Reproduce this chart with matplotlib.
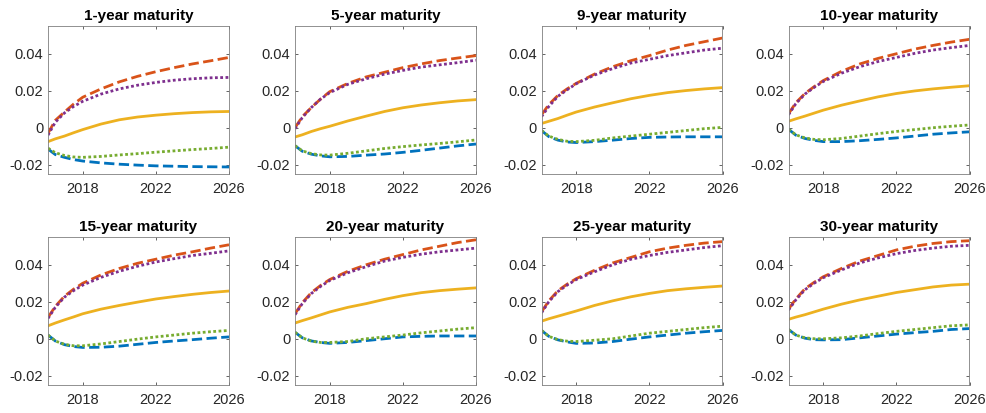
import matplotlib
matplotlib.use("Agg")
import matplotlib.pyplot as plt
import numpy as np

plt.rcParams['font.family'] = ['Liberation Sans', 'DejaVu Sans']

years = [2016.1, 2016.5, 2017, 2017.5, 2018, 2019, 2020, 2021, 2022, 2023, 2024, 2025, 2026]

titles = ['1-year maturity', '5-year maturity', '9-year maturity', '10-year maturity',
          '15-year maturity', '20-year maturity', '25-year maturity', '30-year maturity']

# one row per maturity, one column per year
blue = [
    [-0.0115, -0.0145, -0.016, -0.0172, -0.018, -0.019, -0.0197, -0.0202, -0.0206, -0.0208, -0.021, -0.0211, -0.0212],
    [-0.0097, -0.0127, -0.0143, -0.0152, -0.0157, -0.0155, -0.0148, -0.0142, -0.0133, -0.0122, -0.011, -0.0098, -0.0088],
    [-0.0015, -0.0048, -0.0067, -0.0077, -0.008, -0.0075, -0.0067, -0.0058, -0.0052, -0.005, -0.0049, -0.0049, -0.0049],
    [-0.0008, -0.004, -0.0058, -0.0068, -0.0075, -0.0075, -0.007, -0.0063, -0.0055, -0.0045, -0.0035, -0.0028, -0.0022],
    [0.002, -0.0012, -0.0032, -0.0042, -0.0047, -0.0046, -0.004, -0.003, -0.002, -0.0012, -0.0005, 0.0003, 0.001],
    [0.0035, 0.0005, -0.0012, -0.002, -0.0025, -0.002, -0.001, 0.0, 0.001, 0.0013, 0.0015, 0.0015, 0.0015],
    [0.0045, 0.0013, -0.0006, -0.0017, -0.0025, -0.0023, -0.0015, -0.0002, 0.001, 0.002, 0.003, 0.0038, 0.0045],
    [0.005, 0.002, 0.0003, -0.0005, -0.0006, -0.0005, 0.0005, 0.0015, 0.0025, 0.0033, 0.004, 0.005, 0.0055],
]
orange = [
    [-0.003, 0.004, 0.0085, 0.0128, 0.0165, 0.021, 0.0248, 0.0278, 0.0303, 0.0325, 0.0345, 0.0362, 0.038],
    [0.0, 0.006, 0.011, 0.0155, 0.0195, 0.024, 0.0275, 0.030, 0.0325, 0.0345, 0.0363, 0.0377, 0.039],
    [0.007, 0.0125, 0.0175, 0.021, 0.024, 0.029, 0.033, 0.0363, 0.039, 0.042, 0.0445, 0.0465, 0.0485],
    [0.0075, 0.0135, 0.0185, 0.0222, 0.0255, 0.0305, 0.0345, 0.0375, 0.040, 0.0425, 0.0445, 0.0463, 0.0478],
    [0.0115, 0.0175, 0.023, 0.0268, 0.030, 0.0345, 0.038, 0.0408, 0.043, 0.0452, 0.047, 0.049, 0.0508],
    [0.0135, 0.0195, 0.025, 0.0288, 0.032, 0.0365, 0.040, 0.043, 0.0455, 0.048, 0.050, 0.052, 0.0535],
    [0.0145, 0.0205, 0.026, 0.0295, 0.0325, 0.037, 0.041, 0.044, 0.047, 0.049, 0.0505, 0.0517, 0.0525],
    [0.016, 0.0215, 0.027, 0.0305, 0.0335, 0.038, 0.042, 0.045, 0.048, 0.050, 0.0515, 0.0525, 0.053],
]
yellow = [
    [-0.0075, -0.006, -0.0045, -0.0027, -0.001, 0.002, 0.0043, 0.0058, 0.0068, 0.0076, 0.0082, 0.0086, 0.0088],
    [-0.005, -0.0038, -0.002, -0.0005, 0.0008, 0.0037, 0.0063, 0.0088, 0.0108, 0.0123, 0.0135, 0.0145, 0.0152],
    [0.0023, 0.0035, 0.005, 0.0068, 0.0085, 0.0112, 0.0135, 0.0157, 0.0175, 0.019, 0.0201, 0.021, 0.0217],
    [0.0035, 0.0048, 0.0063, 0.0079, 0.0095, 0.0122, 0.0145, 0.0167, 0.0185, 0.0199, 0.021, 0.0219, 0.0227],
    [0.007, 0.0085, 0.0102, 0.0118, 0.0135, 0.016, 0.018, 0.0198, 0.0215, 0.0228, 0.024, 0.025, 0.0258],
    [0.0085, 0.0098, 0.0113, 0.0129, 0.0145, 0.017, 0.019, 0.0213, 0.0233, 0.0249, 0.026, 0.0268, 0.0275],
    [0.0095, 0.0108, 0.0122, 0.0136, 0.015, 0.018, 0.0205, 0.0227, 0.0245, 0.026, 0.027, 0.0278, 0.0285],
    [0.0105, 0.0117, 0.013, 0.0145, 0.016, 0.0187, 0.021, 0.023, 0.025, 0.0265, 0.028, 0.029, 0.0295],
]
purple = [
    [-0.004, 0.003, 0.008, 0.0115, 0.0143, 0.0182, 0.021, 0.023, 0.0245, 0.0257, 0.0265, 0.027, 0.0272],
    [-0.0005, 0.0055, 0.011, 0.0155, 0.019, 0.0235, 0.0265, 0.029, 0.031, 0.0328, 0.034, 0.0352, 0.0365],
    [0.006, 0.0115, 0.017, 0.0205, 0.0238, 0.0285, 0.032, 0.035, 0.037, 0.039, 0.0405, 0.042, 0.043],
    [0.007, 0.013, 0.0182, 0.0218, 0.025, 0.0295, 0.033, 0.0358, 0.038, 0.0402, 0.042, 0.0433, 0.0445],
    [0.011, 0.017, 0.0225, 0.026, 0.029, 0.0332, 0.0365, 0.0392, 0.0415, 0.0433, 0.045, 0.0462, 0.0475],
    [0.013, 0.019, 0.0245, 0.0283, 0.0315, 0.0357, 0.039, 0.042, 0.044, 0.0457, 0.047, 0.048, 0.049],
    [0.014, 0.020, 0.0255, 0.029, 0.032, 0.0362, 0.040, 0.043, 0.045, 0.0467, 0.048, 0.0493, 0.0503],
    [0.0155, 0.021, 0.0265, 0.030, 0.033, 0.0372, 0.041, 0.0437, 0.046, 0.0477, 0.049, 0.050, 0.0505],
]
green = [
    [-0.011, -0.0135, -0.015, -0.0158, -0.016, -0.0155, -0.0147, -0.014, -0.0132, -0.0125, -0.0118, -0.0112, -0.0105],
    [-0.0097, -0.0125, -0.014, -0.0147, -0.0148, -0.0138, -0.0125, -0.0112, -0.0102, -0.0093, -0.0085, -0.0076, -0.0066],
    [-0.0015, -0.0045, -0.0063, -0.0073, -0.0075, -0.0068, -0.0055, -0.0045, -0.0035, -0.0025, -0.0015, -0.0005, 0.0002],
    [-0.0008, -0.0038, -0.0055, -0.0063, -0.0065, -0.0058, -0.0045, -0.0032, -0.002, -0.001, 0.0, 0.0008, 0.0015],
    [0.002, -0.0012, -0.003, -0.0038, -0.0038, -0.0028, -0.0015, -0.0002, 0.001, 0.002, 0.003, 0.0038, 0.0045],
    [0.0035, 0.0005, -0.0013, -0.002, -0.002, -0.0015, 0.0, 0.001, 0.002, 0.0032, 0.0042, 0.0052, 0.006],
    [0.0045, 0.0013, -0.0005, -0.0013, -0.0015, -0.0008, 0.0, 0.0015, 0.003, 0.004, 0.005, 0.006, 0.0068],
    [0.005, 0.002, 0.0005, 0.0, 0.0, 0.0005, 0.0015, 0.0028, 0.004, 0.005, 0.006, 0.007, 0.0075],
]

xticks = [2018, 2022, 2026]
yticks = [-0.02, 0, 0.02, 0.04]
ytick_labels = ['-0.02', '0', '0.02', '0.04']

dotted = (0, (1.0, 0.9))

fig = plt.figure(figsize=(9.87, 4.13), dpi=100)
W, H = 987.0, 413.0
lefts = [48, 295, 541.5, 788.5]
tops = [26, 237]
aw, ah = 181, 148

for i in range(8):
    r, c = divmod(i, 4)
    ax = fig.add_axes([lefts[c] / W, 1 - (tops[r] + ah) / H, aw / W, ah / H])
    ax.plot(years, blue[i], color='#0072BD', lw=2, ls='--')
    ax.plot(years, orange[i], color='#D95319', lw=2, ls='--')
    ax.plot(years, yellow[i], color='#EDB120', lw=2, ls='-')
    ax.plot(years, purple[i], color='#7E2F8E', lw=2, ls=dotted)
    ax.plot(years, green[i], color='#77AC30', lw=2, ls=dotted)

    ax.set_xlim(2016.1, 2026)
    ax.set_ylim(-0.025, 0.055)
    ax.set_xticks(xticks)
    ax.set_xticklabels([str(t) for t in xticks])
    ax.set_yticks(yticks)
    ax.set_yticklabels(ytick_labels)
    ax.tick_params(direction='in', length=2.5, width=0.5, labelsize=10.5,
                   colors='#262626', top=True, right=True)
    ax.tick_params(axis='x', pad=6)
    ax.tick_params(axis='y', pad=3.5)
    for s in ax.spines.values():
        s.set_linewidth(0.6)
        s.set_color('#7f7f7f')
    ax.set_title(titles[i], fontsize=11, fontweight='bold', color='black', pad=4)

fig.savefig('out.png', dpi=100)
